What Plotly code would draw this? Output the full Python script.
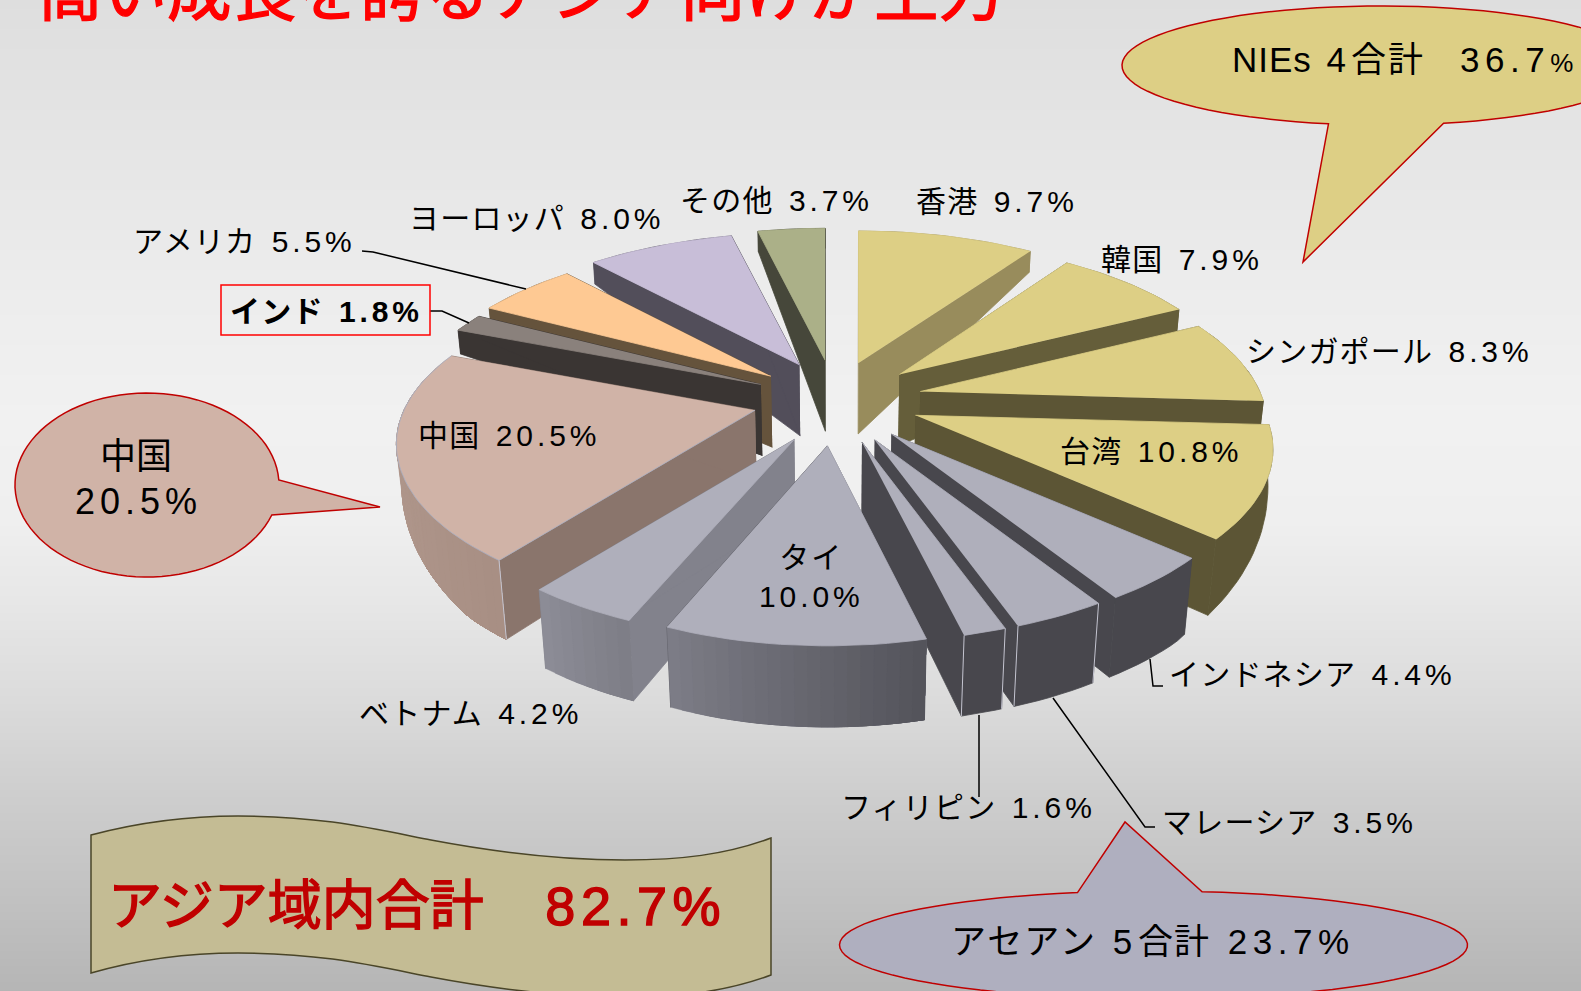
import math
import numpy as np
import plotly.graph_objects as go

# ---------- data ----------
categories = ["香港", "韓国", "シンガポール", "台湾", "インドネシア", "マレーシア", "フィリピン",
              "タイ", "ベトナム", "中国", "インド", "アメリカ", "ヨーロッパ", "その他"]
values = [9.7, 7.9, 8.3, 10.8, 4.4, 3.5, 1.6, 10.0, 4.2, 20.5, 1.8, 5.5, 8.0, 3.7]

top_colors = ["#ddcf85", "#ddcf85", "#ddcf85", "#ddcf85", "#afafbb", "#afafbb", "#afafbb",
              "#afafbb", "#afafbb", "#d0b3a7", "#8a817c", "#fec993", "#c8bed8", "#abb088"]
radial_colors = ["#988c5c", "#655e3a", "#5c5535", "#5c5535", "#48474d", "#48474d", "#48474d",
                 "#5a5a62", "#82828c", "#8a756c", "#3a3533", "#65533c", "#524e5a", "#46473a"]
outer_left = ["#988c5c", "#655e3a", "#5c5535", "#5c5535", "#48474d", "#48474d", "#48474d",
              "#7c7c86", "#8c8c96", "#b89f94", "#3a3533", "#65533c", "#524e5a", "#46473a"]
outer_right = ["#988c5c", "#655e3a", "#5c5535", "#5c5535", "#48474d", "#48474d", "#48474d",
               "#54545b", "#7e7e87", "#a88f84", "#3a3533", "#65533c", "#524e5a", "#46473a"]
# back-to-front painting order
draw_order = ["その他", "ヨーロッパ", "アメリカ", "インド", "中国", "香港", "韓国", "シンガポール", "台湾",
              "インドネシア", "マレーシア", "フィリピン", "ベトナム", "タイ"]
# per-slice fine adjustment of the explosion
nudge_x = [-5, -3, -1, -1, -1, 0, 0, -4, -1, -1, 0, 0, 1, -3]
nudge_y = [1, 0, -2, -3, 0, 0, 0, 2, 1, -3, 0, 0, 0, 0]
scale_x = [1.0, 0.975, 0.97, 1.0, 1.0, 1.0, 1.0, 0.97, 1.0, 1.003, 1.0, 1.0, 1.01, 1.0]

# label anchor (left x, middle y) for every category
label_x = [915, 1100, 1245, 1059, 1168, 1161, 840, 811, 358, 417, 229, 132, 408, 679]
label_y = [201, 259, 351, 451, 674, 822, 807, 577, 713, 435, 311, 241, 218, 200]

title_text = "高い成長を誇るアジア向けが主力"
total_text = "アジア域内合計"
total_value = 82.7
nies_total = 36.7
asean_total = 23.7
china_share = 20.5

# ---------- pie projection ----------
CX, CY = 838, 402        # centre of the explosion ellipse
EX, EY = 85, 42          # explosion offset
R, S, K = 350, 159, 0.205  # perspective of the top face
DEPTH_APEX = 71
depth_v = [-1, -0.7, -0.3, 0, 1]
depth_d = [81, 78, 50, 26, 20]


def rim(theta):
    u, v = math.sin(theta), math.cos(theta)
    w = 1 + K * v
    return R * u / w, -S * v / w


def drop(x, y, d):
    return x - (x - CX) * 0.022 * d / 80, y + d


total = sum(values)
fig = go.Figure()

# background gradient
bg_y = [-2, 100, 200, 300, 420, 520, 600, 700, 800, 900, 993]
bg_v = [222, 227, 232, 237, 241, 239, 231, 219, 205, 193, 181]
fig.add_trace(go.Heatmap(x=[-2, 1583], y=bg_y, z=[[g, g] for g in bg_v], zmin=0, zmax=255,
                         colorscale=[[0, "#000000"], [1, "#ffffff"]], showscale=False,
                         zsmooth="best", hoverinfo="skip"))


def poly(xs, ys, color, line=None, lw=0.8):
    fig.add_trace(go.Scatter(x=xs, y=ys, mode="lines", fill="toself", fillcolor=color,
                             line=dict(color=line or color, width=lw),
                             hoverinfo="skip", showlegend=False))


def mix(a, b, t):
    pa = [int(a[i:i + 2], 16) for i in (1, 3, 5)]
    pb = [int(b[i:i + 2], 16) for i in (1, 3, 5)]
    return "#%02x%02x%02x" % tuple(round(p + (q - p) * t) for p, q in zip(pa, pb))


cum = np.cumsum([0] + values) / total * 2 * math.pi
for name in draw_order:
    i = categories.index(name)
    a0, a1 = cum[i], cum[i + 1]
    mid = (a0 + a1) / 2
    ax = CX + EX * math.sin(mid) + nudge_x[i]
    ay = CY - EY * math.cos(mid) + nudge_y[i]
    n = max(6, int((a1 - a0) / 0.03))
    th = np.linspace(a0, a1, n + 1)
    tx, ty, bx, by = [], [], [], []
    for t in th:
        dx, dy = rim(t)
        x, y = ax + dx * scale_x[i], ay + dy
        d = float(np.interp(math.cos(t), depth_v, depth_d))
        bx_, by_ = drop(x, y, d)
        tx.append(x); ty.append(y); bx.append(bx_); by.append(by_)
    abx, aby = drop(ax, ay, DEPTH_APEX)

    def outer():
        if outer_left[i] == outer_right[i]:
            poly(tx + bx[::-1], ty + by[::-1], outer_left[i])
        else:
            # x falls along the arc: paint left to right, every band covering all that lies to its right
            for k in range(n - 1, -1, -1):
                c = mix(outer_left[i], outer_right[i], (n - 1 - k) / max(1, n - 1))
                poly(tx[:k + 2] + bx[:k + 2][::-1], ty[:k + 2] + by[:k + 2][::-1], c, lw=0.3)

    def radial(j):
        poly([ax, tx[j], bx[j], abx], [ay, ty[j], by[j], aby], radial_colors[i])

    back = math.cos(mid) > 0
    if back:
        outer()
    radial(0)
    radial(-1)
    if not back:
        outer()
    if name in ("中国", "フィリピン", "マレーシア"):
        for j in (0, -1):
            if name == "中国" and j == -1:
                continue
            fig.add_trace(go.Scatter(x=[tx[j], bx[j]], y=[ty[j], by[j]], mode="lines",
                                     line=dict(color="#c4c4d0", width=1), hoverinfo="skip", showlegend=False))
    poly([ax] + tx, [ay] + ty, top_colors[i],
         line="#aab0c4" if name == "中国" else None)

# ---------- leader lines ----------
leaders = [
    ([362, 373, 526], [251, 252, 289]),
    ([430, 442, 469], [311, 311, 323]),
    ([1150, 1153, 1163], [659, 686, 686]),
    ([1053, 1145, 1155], [698, 827, 827]),
    ([979, 979], [715, 797]),
]
for lx, ly in leaders:
    fig.add_trace(go.Scatter(x=lx, y=ly, mode="lines", line=dict(color="#000000", width=1.5),
                             hoverinfo="skip", showlegend=False))

# ---------- callouts ----------


def ellipse_callout(cx, cy, rx, ry, base0, base1, tip):
    """Closed SVG path: ellipse with a pointed tail; the arc runs clockwise on screen from base0 to base1."""
    a0 = math.atan2((base0[1] - cy) / ry, (base0[0] - cx) / rx)
    a1 = math.atan2((base1[1] - cy) / ry, (base1[0] - cx) / rx)
    if a1 < a0:
        a1 += 2 * math.pi
    pts = [(cx + rx * math.cos(t), cy + ry * math.sin(t)) for t in np.linspace(a0, a1, 90)]
    pts.append(tip)
    return "M" + " L".join(f"{x:.1f},{y:.1f}" for x, y in pts) + " Z"


RED = "#c00000"
shapes = [
    dict(type="path", path=ellipse_callout(1381, 65.5, 259, 59.5, (1331, 121), (1445, 124.5), (1303, 262)),
         fillcolor="#ddcf85", line=dict(color=RED, width=1.5), layer="above"),
    dict(type="path", path=ellipse_callout(147, 485, 132, 92, (272, 515), (279, 480), (380, 507)),
         fillcolor="#d0b3a7", line=dict(color=RED, width=1.5), layer="above"),
    dict(type="path", path=ellipse_callout(1153.5, 945, 314, 54, (1200, 894), (1081, 895), (1125, 822)),
         fillcolor="#afafbf", line=dict(color=RED, width=1.5), layer="above"),
    dict(type="path",
         path="M91,835 C140,822 190,816 238,816 C320,816 370,828 431,840 C500,853 570,860 625,860 "
              "C680,860 725,855 771,838 L771,975 C725,992 680,997 625,997 C570,997 500,990 431,977 "
              "C370,965 320,953 238,953 C190,953 140,959 91,973 Z",
         fillcolor="#c4bc94", line=dict(color="#4a4528", width=1.5), layer="above"),
    dict(type="rect", x0=221, x1=430, y0=285, y1=335, line=dict(color="#ff0000", width=1.5), layer="above"),
]


def spaced(text, px):
    return f'<span style="letter-spacing:{px}px">{text}</span>'


def stroked(text, color, width, px=0):
    return f'<span style="stroke:{color};stroke-width:{width}px;letter-spacing:{px}px">{text}</span>'


def label_text(name, val):
    return spaced(name, 1.2) + spaced(" ", 7) + spaced(f"{val:.1f}%", 3.9)


FONT = "Liberation Sans, Noto Sans CJK JP, sans-serif"
annotations = []


def note(x, y, text, size, color="#000000", anchor="left", yshift=0):
    annotations.append(dict(x=x, y=y, text=text, showarrow=False, xanchor=anchor, yanchor="middle",
                            xref="x", yref="y", yshift=yshift, borderpad=0,
                            font=dict(family=FONT, size=size, color=color), align="center"))


for name, val, lx, ly in zip(categories, values, label_x, label_y):
    if name == "タイ":
        note(lx, ly, f'{spaced(name, 2)}<br>{spaced(f"{val:.1f}%", 3.9)}', 30, anchor="center")
    elif name == "インド":
        note(lx, ly, f"<b>{label_text(name, val)}</b>", 30)
    else:
        note(lx, ly, label_text(name, val), 30)

note(37, 1, stroked(title_text, "#ff0000", 1.4), 64.5, color="#ff0000", yshift=8)
note(1231, 59, spaced("NIEs", 1) + spaced(" 4", 5) + spaced("合計", 2) + "　" + spaced(f"{nies_total}", 5.5)
     + '<span style="font-size:26px">%</span>', 35)
note(136, 456, "中国", 36, anchor="center")
note(138, 501, spaced(f"{china_share}%", 5), 36, anchor="center")
note(950, 941, spaced("アセアン", 2) + spaced(" 5", 6) + spaced("合計", 1) + spaced(" ", 8) + spaced(f"{asean_total}%", 5.5), 35)
note(107, 906, stroked(total_text, RED, 1.4) + "　" + spaced(" ", -7.5) + stroked(f"{total_value}%", RED, 1.4, 5.5), 54, color=RED)

fig.update_layout(
    width=1581, height=991, margin=dict(l=0, r=0, t=0, b=0), autosize=False,
    paper_bgcolor="#e8e8e8", plot_bgcolor="rgba(0,0,0,0)", showlegend=False,
    xaxis=dict(range=[0, 1581], visible=False, fixedrange=True),
    yaxis=dict(range=[991, 0], visible=False, fixedrange=True),
    shapes=shapes, annotations=annotations,
)
fig.write_html("out.html", config={"displayModeBar": False},
               post_script="document.body.style.margin='0';document.documentElement.style.overflow='hidden';")
